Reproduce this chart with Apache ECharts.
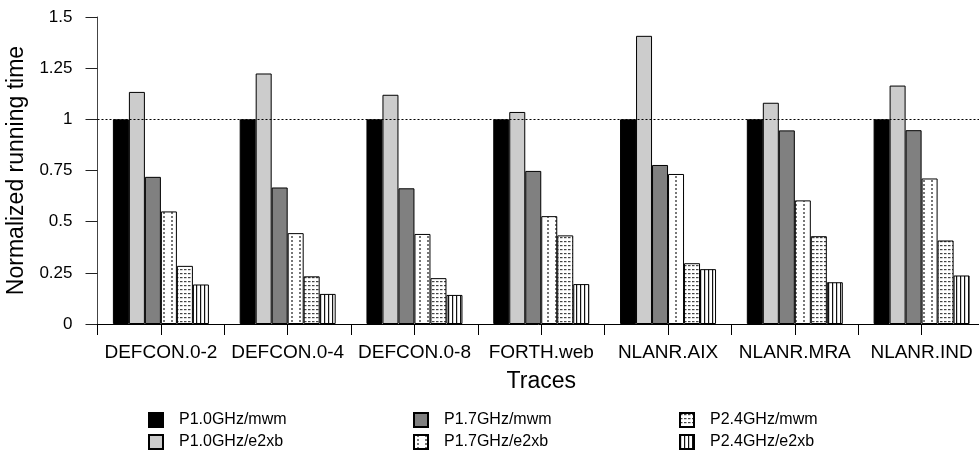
<!DOCTYPE html>
<html>
<head>
<meta charset="utf-8">
<script src="https://cdn.jsdelivr.net/npm/echarts@6/dist/echarts.min.js"></script>
<style>html,body{margin:0;padding:0;background:#fff}#c{width:979px;height:452px}</style>
</head>
<body>
<div id="c"></div>
<script>
const categories = ['DEFCON.0-2','DEFCON.0-4','DEFCON.0-8','FORTH.web','NLANR.AIX','NLANR.MRA','NLANR.IND'];
const seriesNames = ['P1.0GHz/mwm','P1.0GHz/e2xb','P1.7GHz/mwm','P1.7GHz/e2xb','P2.4GHz/mwm','P2.4GHz/e2xb'];
const p10mwm  = [1, 1, 1, 1, 1, 1, 1];
const p10e2xb = [1.134, 1.224, 1.12, 1.036, 1.408, 1.081, 1.165];
const p17mwm  = [0.719, 0.667, 0.663, 0.748, 0.777, 0.946, 0.947];
const p17e2xb = [0.55, 0.444, 0.44, 0.527, 0.733, 0.604, 0.711];
const p24mwm  = [0.284, 0.233, 0.224, 0.433, 0.297, 0.429, 0.408];
const p24e2xb = [0.193, 0.147, 0.142, 0.195, 0.268, 0.204, 0.237];
const yTicks = [0, 0.25, 0.5, 0.75, 1, 1.25, 1.5];
const refLine = 1;

function tile(w, h, draw) {
  const c = document.createElement('canvas');
  c.width = w; c.height = h;
  const g = c.getContext('2d');
  g.fillStyle = '#fff'; g.fillRect(0, 0, w, h);
  draw(g);
  return { image: c, repeat: 'repeat' };
}
const patDots = tile(8, 4, g => { g.fillStyle = '#777'; g.fillRect(3, 0, 2, 2); });
const patDash = tile(4, 4, g => { g.fillStyle = '#444'; g.fillRect(0, 1, 2.5, 1.2); });
const patVert = tile(4, 4, g => { g.fillStyle = '#111'; g.fillRect(0, 0, 1.2, 4); });

const fills = ['#000', '#cccccc', '#808080', patDots, patDash, patVert];
const values = [p10mwm, p10e2xb, p17mwm, p17e2xb, p24mwm, p24e2xb];
const FONT = 'Liberation Sans, Arial, Helvetica, sans-serif';

const series = seriesNames.map((n, i) => ({
  name: n,
  type: 'bar',
  xAxisIndex: 0,
  barWidth: 16,
  barGap: '0%',
  data: values[i],
  itemStyle: { color: fills[i], borderColor: '#000', borderWidth: 1 },
  emphasis: { disabled: true },
  markLine: i === 0 ? {
    silent: true, symbol: 'none', label: { show: false },
    lineStyle: { color: '#000', type: [2, 2], width: 1 },
    data: [{ yAxis: refLine }]
  } : undefined
}));

const legendPos = [
  [148, 412], [148, 434], [413, 412], [413, 434], [679, 412], [679, 434]
];
const legends = seriesNames.map((n, i) => ({
  data: [n],
  left: legendPos[i][0], top: legendPos[i][1],
  padding: 0,
  itemWidth: 14, itemHeight: 14, icon: 'rect',
  selectedMode: false,
  textStyle: { fontFamily: FONT, fontSize: 16, color: '#000', padding: [0, 0, 0, 11] }
}));

const chart = echarts.init(document.getElementById('c'), null, { renderer: 'canvas' });
chart.setOption({
  animation: false,
  backgroundColor: '#fff',
  grid: { left: 97.5, top: 17, bottom: 128, right: -6, containLabel: false, outerBoundsMode: 'none' },
  legend: legends,
  xAxis: [{
    type: 'category', data: categories, position: 'bottom',
    name: 'Traces', nameLocation: 'middle', nameGap: 46,
    nameTextStyle: { fontFamily: FONT, fontSize: 23, color: '#000' },
    axisLine: { lineStyle: { color: '#000', width: 1 } },
    axisTick: { show: true, length: 11, lineStyle: { color: '#000' } },
    axisLabel: { interval: 0, fontFamily: FONT, fontSize: 19, color: '#000', margin: 19 }
  }, {
    type: 'category', data: categories, position: 'bottom',
    axisLine: { show: false },
    axisTick: { show: true, alignWithLabel: true, length: 11, lineStyle: { color: '#000' } },
    axisLabel: { show: false }
  }],
  yAxis: {
    type: 'value', min: 0, max: 1.5, interval: 0.25,
    name: 'Normalized running time', nameLocation: 'middle', nameGap: 68,
    nameTextStyle: { fontFamily: FONT, fontSize: 23, color: '#000' },
    axisLine: { show: true, lineStyle: { color: '#444' } },
    axisTick: { show: true, length: 12, lineStyle: { color: '#222' } },
    splitLine: { show: false },
    axisLabel: { fontFamily: FONT, fontSize: 17, color: '#000', margin: 25,
      formatter: v => (yTicks.indexOf(v) >= 0 ? String(v) : '') }
  },
  series: series
});
</script>
</body>
</html>
